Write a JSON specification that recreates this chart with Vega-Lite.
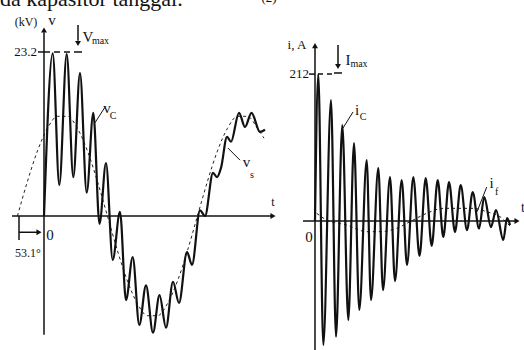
{
  "$schema": "https://vega.github.io/schema/vega-lite/v6.json",
  "padding": 0,
  "spacing": 0,
  "bounds": "flush",
  "background": "white",
  "config": {"view": {"stroke": null}, "text": {"font": "'Times New Roman', 'Liberation Serif', serif", "color": "#111"}},
  "datasets": {
    "leftVc": [
      {"t":0,"v":0},{"t":17.4,"v":23.0},{"t":30.6,"v":4.4},{"t":45.4,"v":22.9},{"t":58.6,"v":5.5},{"t":72,"v":20.2},{"t":85.4,"v":3.3},{"t":98.6,"v":14.6},{"t":111,"v":-1.1},{"t":124,"v":7.5},{"t":137.4,"v":-6.2},{"t":152,"v":0.6},{"t":164,"v":-11.9},{"t":177.4,"v":-5.8},{"t":190.6,"v":-15.4},{"t":204,"v":-9.8},{"t":218,"v":-16.5},{"t":231,"v":-11.2},{"t":244,"v":-15.8},{"t":258,"v":-9.3},{"t":270,"v":-12.3},{"t":286,"v":-5.1},{"t":296,"v":-6.9},{"t":312,"v":0.8},{"t":322,"v":0.0},{"t":338,"v":6.1},{"t":346,"v":5.5},{"t":354,"v":6.8},{"t":366,"v":11.2},{"t":374,"v":10.5},{"t":390,"v":14.6},{"t":402,"v":12.6},{"t":415,"v":14.6},{"t":432,"v":11.9},{"t":442,"v":12.2}
    ],
    "leftVs": [
      {"t":-53.1,"v":0},{"t":-33.1,"v":4.9},{"t":-13.1,"v":9.2},{"t":6.9,"v":12.4},{"t":26.9,"v":14.1},{"t":46.9,"v":14.1},{"t":66.9,"v":12.4},{"t":86.9,"v":9.2},{"t":106.9,"v":4.9},{"t":126.9,"v":0},{"t":146.9,"v":-4.9},{"t":166.9,"v":-9.2},{"t":186.9,"v":-12.4},{"t":206.9,"v":-14.1},{"t":226.9,"v":-14.1},{"t":246.9,"v":-12.4},{"t":266.9,"v":-9.2},{"t":286.9,"v":-4.9},{"t":306.9,"v":0},{"t":326.9,"v":4.9},{"t":346.9,"v":9.2},{"t":366.9,"v":12.4},{"t":386.9,"v":14.1},{"t":406.9,"v":14.1},{"t":426.9,"v":12.4},{"t":440,"v":11.0}
    ],
    "leftAxes": [
      {"t":-64,"v":0,"t2":458,"v2":0},
      {"t":0,"v":-16.8,"t2":0,"v2":26.0},
      {"t":-12,"v":23.2,"t2":0,"v2":23.2},
      {"t":-50,"v":0,"t2":-50,"v2":-3.4},
      {"t":-50,"v":-2.3,"t2":-12,"v2":-2.3},
      {"t":68,"v":27.0,"t2":68,"v2":24.8},
      {"t":60,"v":23.2,"t2":76,"v2":23.2}
    ],
    "leftPointers": [
      {"t":102,"v":13.2,"t2":122,"v2":15.4},
      {"t":368,"v":9.6,"t2":392,"v2":7.9}
    ],
    "leftDash": [{"t":0,"v":23.2,"t2":58,"v2":23.2}],
    "leftHeads": [
      {"t":458,"v":0,"dir":"right"},
      {"t":0,"v":26.3,"dir":"up"},
      {"t":-10,"v":-2.3,"dir":"right"},
      {"t":68,"v":24.4,"dir":"down"}
    ],
    "leftText13": [
      {"t":-36,"v":27.44,"label":"(kV)"},
      {"t":-32,"v":-5.2,"label":"53.1°"},
      {"t":458,"v":2.0,"label":"t"}
    ],
    "leftText15": [
      {"t":16,"v":27.7,"label":"v"},
      {"t":88,"v":25.3,"label":"V"},
      {"t":126,"v":15.3,"label":"v"},
      {"t":405,"v":7.6,"label":"v"},
      {"t":12,"v":-2.7,"label":"0"}
    ],
    "leftRight": [{"t":-14,"v":23.2,"label":"23.2"}],
    "leftSub": [
      {"t":113,"v":24.75,"label":"max"},
      {"t":138,"v":14.1,"label":"C"},
      {"t":416,"v":5.8,"label":"s"}
    ],
    "leftTop": [{"t":-88,"v":29.7,"label":"da kapasitor tanggal."}],
    "leftTop2": [{"t":450,"v":30.3,"label":"(2)"}],
    "rightIc": [
      {"t":0,"i":0},{"t":6.6,"i":212},{"t":16.6,"i":-179},{"t":32,"i":174.6},{"t":42,"i":-167},{"t":54.6,"i":138.5},{"t":66.6,"i":-142.9},{"t":78,"i":112.6},{"t":88.6,"i":-128.4},{"t":103.4,"i":88},{"t":112,"i":-114},{"t":126.6,"i":76.5},{"t":136,"i":-99.6},{"t":150,"i":63.5},{"t":160,"i":-86.6},{"t":173.4,"i":59.2},{"t":184,"i":-63.5},{"t":196.6,"i":63.5},{"t":209,"i":-50.5},{"t":221.4,"i":62},{"t":233.4,"i":-36},{"t":245.4,"i":59.2},{"t":256.6,"i":-23},{"t":268,"i":56.3},{"t":280,"i":-15.9},{"t":291.4,"i":52},{"t":304,"i":-13},{"t":315.4,"i":41.8},{"t":328,"i":-10.8},{"t":338.6,"i":34.6},{"t":352,"i":-8.7},{"t":362,"i":15.9},{"t":376.6,"i":-27.4},{"t":384,"i":4.3},{"t":390,"i":-5.8}
    ],
    "rightIf": [
      {"t":3.4,"i":11.1},{"t":23.4,"i":1.4},{"t":63.4,"i":-5.8},{"t":103.4,"i":-15.4},{"t":130,"i":-15.4},{"t":163.4,"i":-10.5},{"t":190,"i":-1},{"t":223.4,"i":11.1},{"t":256.6,"i":18.3},{"t":290,"i":18.3},{"t":316.6,"i":18.3},{"t":343.4,"i":13.4},{"t":370,"i":6.2},{"t":390,"i":-7.2}
    ],
    "rightAxes": [
      {"t":-24,"i":0,"t2":402,"i2":0},
      {"t":0,"i":-186,"t2":0,"i2":250},
      {"t":-12,"i":212,"t2":0,"i2":212},
      {"t":46,"i":254,"t2":46,"i2":226},
      {"t":38,"i":213.6,"t2":54,"i2":213.6}
    ],
    "rightDash": [{"t":6,"i":212,"t2":34,"i2":212}],
    "rightPointers": [
      {"t":56,"i":134.2,"t2":76,"i2":157.3},
      {"t":324,"i":13.4,"t2":343.4,"i2":49}
    ],
    "rightHeads": [
      {"t":404,"i":0,"dir":"right"},
      {"t":0,"i":253,"dir":"up"},
      {"t":46,"i":223,"dir":"down"}
    ],
    "rightText13": [{"t":-36,"i":254,"label":"i, A"}],
    "rightText15": [
      {"t":66,"i":232.3,"label":"I"},
      {"t":84,"i":160.2,"label":"i"},
      {"t":353.4,"i":54.8,"label":"i"},
      {"t":-12,"i":-23.1,"label":"0"}
    ],
    "rightRight": [{"t":-12,"i":212,"label":"212"}],
    "rightSub": [
      {"t":88,"i":226.6,"label":"max"},
      {"t":96,"i":150,"label":"C"},
      {"t":363.4,"i":41.8,"label":"f"}
    ],
    "rightClip": [{"t":416,"i":18.8,"label":"t"}]
  },
  "hconcat": [
    {
      "width": 278,
      "height": 350,
      "encoding": {
        "x": {"field": "t", "type": "quantitative", "scale": {"domain": [-88, 468], "nice": false, "zero": false}, "axis": null},
        "y": {"field": "v", "type": "quantitative", "scale": {"domain": [-18.95, 30.55], "nice": false, "zero": false}, "axis": null}
      },
      "layer": [
        {"data": {"name": "leftVs"}, "mark": {"type": "line", "color": "#222", "strokeWidth": 1, "strokeDash": [3, 3], "interpolate": "monotone"}},
        {"data": {"name": "leftVc"}, "mark": {"type": "line", "color": "#111", "strokeWidth": 2.2, "interpolate": "monotone"}},
        {"data": {"name": "leftAxes"}, "mark": {"type": "rule", "color": "#111", "strokeWidth": 1.5}, "encoding": {"x2": {"field": "t2"}, "y2": {"field": "v2"}}},
        {"data": {"name": "leftPointers"}, "mark": {"type": "rule", "color": "#111", "strokeWidth": 1}, "encoding": {"x2": {"field": "t2"}, "y2": {"field": "v2"}}},
        {"data": {"name": "leftDash"}, "mark": {"type": "rule", "color": "#111", "strokeWidth": 1.5, "strokeDash": [6, 4]}, "encoding": {"x2": {"field": "t2"}, "y2": {"field": "v2"}}},
        {"data": {"name": "leftHeads"}, "mark": {"type": "point", "filled": true, "color": "#111", "opacity": 1, "size": 35}, "encoding": {"shape": {"field": "dir", "type": "nominal", "scale": {"domain": ["up", "down", "right"], "range": ["triangle-up", "triangle-down", "triangle-right"]}, "legend": null}}},
        {"data": {"name": "leftText13"}, "mark": {"type": "text", "fontSize": 12, "align": "center", "baseline": "middle"}, "encoding": {"text": {"field": "label"}}},
        {"data": {"name": "leftText15"}, "mark": {"type": "text", "fontSize": 15, "align": "center", "baseline": "middle"}, "encoding": {"text": {"field": "label"}}},
        {"data": {"name": "leftRight"}, "mark": {"type": "text", "fontSize": 13, "align": "right", "baseline": "middle"}, "encoding": {"text": {"field": "label"}}},
        {"data": {"name": "leftSub"}, "mark": {"type": "text", "fontSize": 10, "align": "center", "baseline": "middle"}, "encoding": {"text": {"field": "label"}}},
        {"data": {"name": "leftTop"}, "mark": {"type": "text", "fontSize": 22, "align": "left", "baseline": "alphabetic", "clip": true}, "encoding": {"text": {"field": "label"}}},
        {"data": {"name": "leftTop2"}, "mark": {"type": "text", "fontSize": 13, "align": "center", "baseline": "alphabetic", "clip": true}, "encoding": {"text": {"field": "label"}}}
      ]
    },
    {
      "width": 246,
      "height": 350,
      "encoding": {
        "x": {"field": "t", "type": "quantitative", "scale": {"domain": [-74, 418], "nice": false, "zero": false}, "axis": null},
        "y": {"field": "i", "type": "quantitative", "scale": {"domain": [-186.1, 318.9], "nice": false, "zero": false}, "axis": null}
      },
      "layer": [
        {"data": {"name": "rightIf"}, "mark": {"type": "line", "color": "#222", "strokeWidth": 1, "strokeDash": [3, 3], "interpolate": "monotone"}},
        {"data": {"name": "rightIc"}, "mark": {"type": "line", "color": "#111", "strokeWidth": 2.2, "interpolate": "monotone"}},
        {"data": {"name": "rightAxes"}, "mark": {"type": "rule", "color": "#111", "strokeWidth": 1.5}, "encoding": {"x2": {"field": "t2"}, "y2": {"field": "i2"}}},
        {"data": {"name": "rightPointers"}, "mark": {"type": "rule", "color": "#111", "strokeWidth": 1}, "encoding": {"x2": {"field": "t2"}, "y2": {"field": "i2"}}},
        {"data": {"name": "rightDash"}, "mark": {"type": "rule", "color": "#111", "strokeWidth": 1.5, "strokeDash": [5, 4]}, "encoding": {"x2": {"field": "t2"}, "y2": {"field": "i2"}}},
        {"data": {"name": "rightHeads"}, "mark": {"type": "point", "filled": true, "color": "#111", "opacity": 1, "size": 35}, "encoding": {"shape": {"field": "dir", "type": "nominal", "scale": {"domain": ["up", "down", "right"], "range": ["triangle-up", "triangle-down", "triangle-right"]}, "legend": null}}},
        {"data": {"name": "rightText13"}, "mark": {"type": "text", "fontSize": 13, "align": "center", "baseline": "middle"}, "encoding": {"text": {"field": "label"}}},
        {"data": {"name": "rightText15"}, "mark": {"type": "text", "fontSize": 15, "align": "center", "baseline": "middle"}, "encoding": {"text": {"field": "label"}}},
        {"data": {"name": "rightRight"}, "mark": {"type": "text", "fontSize": 13, "align": "right", "baseline": "middle"}, "encoding": {"text": {"field": "label"}}},
        {"data": {"name": "rightSub"}, "mark": {"type": "text", "fontSize": 10, "align": "center", "baseline": "middle"}, "encoding": {"text": {"field": "label"}}},
        {"data": {"name": "rightClip"}, "mark": {"type": "text", "fontSize": 14, "align": "center", "baseline": "middle", "clip": true}, "encoding": {"text": {"field": "label"}}}
      ]
    }
  ]
}
